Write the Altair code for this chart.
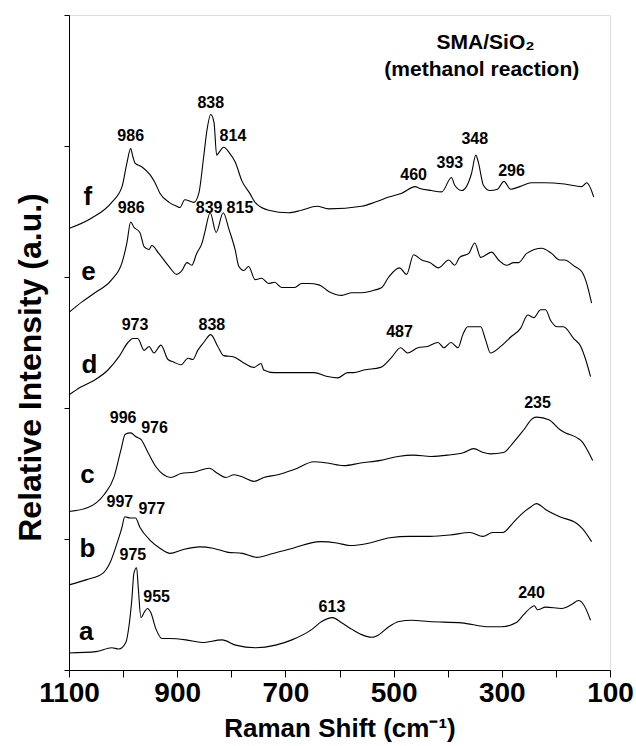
import altair as alt
import pandas as pd

# Raman spectra of SMA/SiO2 during methanol reaction, stacked traces a-f
# wavenumber (cm-1) and relative intensity (offset included), per trace

f_shift = [1100, 1058, 1021, 1002, 993, 986, 982, 978, 965, 950, 941, 932, 915, 901, 895,
           886, 869, 860, 851, 845, 838, 832, 827, 823, 814, 804, 793, 780, 766, 756, 731,
           694, 670, 642, 620, 559, 535, 509, 485, 460, 454, 430, 411, 393, 387, 374, 356,
           348, 343, 334, 322, 308, 296, 284, 267, 245, 221, 184, 152, 143, 130]
f_int = [337, 345, 357, 369, 387, 398, 392, 387, 384, 378, 372, 364, 357, 354, 353,
         359, 357, 364, 392, 412, 424, 418, 393, 395, 399, 395, 388, 373, 364, 357, 351,
         349, 351, 354, 352, 354, 357, 361, 364, 369, 368, 366, 365, 376, 370, 366, 379,
         393, 387, 370, 366, 367, 373, 367, 369, 372, 372, 371, 369, 372, 361]

e_shift = [1100, 1076, 1052, 1021, 1002, 993, 986, 980, 969, 961, 952, 947, 934, 915, 901,
           891, 882, 873, 864, 854, 849, 839, 828, 815, 804, 793, 786, 777, 768, 756, 744,
           731, 720, 707, 683, 670, 657, 638, 620, 596, 577, 559, 535, 522, 509, 489, 476,
           463, 448, 433, 417, 398, 387, 378, 361, 350, 339, 319, 306, 291, 278, 269, 254,
           226, 208, 193, 184, 165, 152, 143, 134]
e_int = [273, 281, 288, 298, 311, 326, 342, 338, 334, 323, 321, 324, 318, 308, 302,
         305, 311, 309, 318, 326, 334, 349, 334, 349, 336, 321, 308, 305, 308, 298, 299,
         295, 296, 292, 292, 295, 295, 294, 289, 286, 288, 288, 290, 292, 300, 307, 302,
         317, 313, 311, 307, 313, 309, 315, 318, 326, 315, 319, 313, 309, 311, 311, 318,
         322, 318, 313, 313, 308, 304, 295, 280]

d_shift = [1100, 1078, 1054, 1028, 1008, 991, 982, 973, 961, 952, 943, 930, 917, 906, 893,
           880, 871, 862, 851, 838, 825, 814, 795, 779, 758, 745, 740, 721, 696, 671, 647,
           622, 603, 585, 574, 555, 524, 505, 487, 474, 455, 437, 418, 407, 394, 381, 372,
           363, 339, 330, 321, 302, 284, 265, 252, 241, 228, 219, 210, 197, 186, 167, 154,
           145, 136]
d_int = [210, 216, 221, 229, 239, 250, 253, 253, 244, 247, 242, 248, 237, 235, 233,
         238, 237, 244, 250, 256, 247, 240, 239, 235, 231, 234, 229, 227, 227, 227, 227,
         224, 223, 227, 227, 229, 231, 238, 246, 242, 246, 247, 250, 246, 250, 246, 256,
         262, 262, 252, 242, 247, 254, 261, 271, 269, 275, 275, 267, 262, 262, 253, 247,
         237, 224]

c_shift = [1100, 1065, 1035, 1017, 1004, 996, 986, 976, 967, 954, 939, 925, 912, 893, 869,
           841, 825, 810, 795, 777, 758, 740, 714, 684, 647, 622, 592, 561, 524, 492, 463,
           431, 400, 370, 352, 334, 321, 297, 278, 260, 243, 235, 213, 191, 182, 160, 151,
           142, 132]
c_int = [121, 124, 134, 147, 168, 180, 181, 178, 176, 166, 155, 149, 147, 150, 151,
         154, 150, 147, 149, 147, 144, 147, 149, 153, 159, 158, 156, 158, 160, 163, 164,
         163, 164, 166, 169, 166, 165, 166, 174, 183, 192, 193, 191, 183, 181, 177, 174,
         168, 160]

b_shift = [1100, 1067, 1037, 1024, 1011, 1002, 997, 987, 977, 969, 950, 932, 913, 889, 858,
           834, 808, 779, 753, 723, 686, 636, 605, 581, 544, 507, 470, 433, 396, 359, 335,
           317, 298, 280, 261, 248, 236, 217, 193, 162, 151, 134]
b_int = [65, 69, 74, 82, 97, 109, 117, 116, 116, 109, 99, 93, 89, 92, 94,
         93, 90, 89, 86, 89, 93, 98, 97, 95, 97, 101, 102, 102, 103, 105, 102,
         105, 105, 112, 120, 124, 127, 122, 117, 112, 108, 98]

a_shift = [1100, 1050, 1021, 1008, 995, 989, 984, 980, 975, 972, 967, 961, 955, 949, 939,
           928, 915, 884, 854, 817, 792, 755, 718, 688, 651, 633, 613, 596, 577, 559, 540,
           527, 509, 490, 466, 435, 374, 324, 300, 274, 260, 245, 240, 234, 219, 189, 171,
           158, 149, 136]
a_int = [13, 14, 17, 16, 21, 34, 53, 74, 78, 63, 40, 44, 47, 44, 31,
         24, 24, 23, 21, 23, 19, 17, 19, 23, 31, 37, 40, 36, 31, 27, 25,
         27, 33, 37, 38, 37, 36, 33, 33, 36, 42, 48, 49, 46, 48, 47, 50,
         53, 50, 38]

# peak annotations: text, wavenumber, intensity
peak_text = ["986", "838", "814", "460", "393", "348", "296",
             "986", "839", "815",
             "973", "838", "487",
             "996", "976", "235",
             "997", "977",
             "975", "955", "613", "240"]
peak_x = [986, 838, 797, 463, 396, 350, 282,
          985, 841, 784,
          978, 836, 489,
          1000, 942, 234,
          1006, 947,
          982, 938, 614, 245]
peak_y = [408, 433, 408, 378, 387, 405, 381,
          353, 353, 353,
          263, 263, 258,
          192, 185, 204,
          128, 123,
          88, 56, 48, 59]

# trace letters
trace_text = ["f", "e", "d", "c", "b", "a"]
trace_x = [1065, 1064, 1062, 1066, 1066, 1068]
trace_y = [361, 304, 233, 149, 92, 29]

# sample heading
head_text = ["SMA/SiO₂", "(methanol reaction)"]
head_x = [330, 337]
head_y = [479, 458]

rows = []
for name, xs, ys in [("a", a_shift, a_int), ("b", b_shift, b_int), ("c", c_shift, c_int),
                     ("d", d_shift, d_int), ("e", e_shift, e_int), ("f", f_shift, f_int)]:
    for i, (xv, yv) in enumerate(zip(xs, ys)):
        rows.append({"trace": name, "order": i, "shift": xv, "intensity": yv})
spectra = pd.DataFrame(rows)

peaks = pd.DataFrame({"text": peak_text, "shift": peak_x, "intensity": peak_y})
letters = pd.DataFrame({"text": trace_text, "shift": trace_x, "intensity": trace_y})
heading = pd.DataFrame({"text": head_text, "shift": head_x, "intensity": head_y})

FONT = "Liberation Sans"

x_scale = alt.Scale(domain=[100, 1100], reverse=True, nice=False)
y_scale = alt.Scale(domain=[0, 500], nice=False)

x_enc = alt.X("shift:Q", scale=x_scale,
              axis=alt.Axis(values=list(range(100, 1101, 100)),
                            labelExpr="datum.value % 200 == 100 ? datum.label : ''",
                            format="d", grid=False, tickSize=7, tickColor="black",
                            domainColor="black", labelFont=FONT, labelFontSize=28,
                            labelFontWeight="bold", labelColor="black", labelPadding=2,
                            labelFlush=False,
                            title="Raman Shift (cm⁻¹)", titleFont=FONT, titleFontSize=26,
                            titleFontWeight="bold", titleColor="black",
                            titleY=58, titleBaseline="middle"))
y_enc = alt.Y("intensity:Q", scale=y_scale,
              axis=alt.Axis(values=[0, 100, 200, 300, 400, 500], labels=False, grid=False,
                            tickSize=5, tickColor="black", domainColor="black",
                            title="Relative Intensity (a.u.)", titleFont=FONT,
                            titleFontSize=32, titleFontWeight="bold", titleColor="black",
                            titleX=-39, titleY=352, titleBaseline="middle", titleAngle=-90))

lines = alt.Chart(spectra).mark_line(color="black", strokeWidth=1.1, interpolate="monotone").encode(
    x=x_enc, y=y_enc, detail="trace:N", order="order:Q")

peak_labels = alt.Chart(peaks).mark_text(font=FONT, fontSize=16, fontWeight="bold",
                                         color="black", baseline="middle").encode(
    x="shift:Q", y="intensity:Q", text="text:N")

letter_labels = alt.Chart(letters).mark_text(font=FONT, fontSize=26, fontWeight="bold",
                                             color="black", baseline="middle").encode(
    x="shift:Q", y="intensity:Q", text="text:N")

heading_labels = alt.Chart(heading).mark_text(font=FONT, fontSize=21, fontWeight="bold",
                                              color="black", baseline="middle").encode(
    x="shift:Q", y="intensity:Q", text="text:N")

chart = alt.layer(lines, peak_labels, letter_labels, heading_labels).properties(
    width=541, height=655,
    autosize=alt.AutoSizeParams(type="none"),
    padding={"left": 69, "top": 15, "right": 26, "bottom": 76},
).configure_view(stroke="black", strokeWidth=1).configure(background="white")

chart.save("out.html", embed_options={"renderer": "svg", "actions": False})
